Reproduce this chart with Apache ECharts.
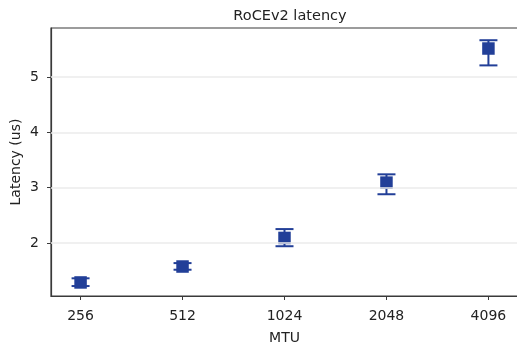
<!DOCTYPE html>
<html>
<head>
<meta charset="utf-8">
<script src="https://cdn.jsdelivr.net/npm/echarts@6/dist/echarts.min.js"></script>
<style>
html,body{margin:0;padding:0;background:#fff;}
#chart{width:517px;height:343px;}
</style>
</head>
<body>
<div id="chart"></div>
<script>
const mtuLabels = ['256', '512', '1024', '2048', '4096'];
const latency = [1.285, 1.573, 2.09, 3.09, 5.515];
const errLow = [1.22, 1.515, 1.94, 2.88, 5.21];
const errHigh = [1.36, 1.635, 2.25, 3.24, 5.665];
const yTicks = [2, 3, 4, 5];

const color = '#223f98';
const font = 'DejaVu Sans';

const pointData = latency.map((v, i) => [i, v]);
const errData = latency.map((v, i) => [i, errLow[i], errHigh[i]]);

const chart = echarts.init(document.getElementById('chart'), null, {renderer: 'canvas'});
chart.setOption({
  animation: false,
  backgroundColor: '#fff',
  title: {
    text: 'RoCEv2 latency',
    left: 285, top: 4, textAlign: 'center',
    textStyle: {fontFamily: font, fontSize: 14.5, fontWeight: 'normal', color: '#222'}
  },
  grid: {
    left: 51, top: 28, width: 467, height: 268,
    containLabel: false, outerBoundsMode: 'none',
    show: true, borderColor: '#3a3a3a', borderWidth: 1.2, backgroundColor: 'transparent'
  },
  xAxis: {
    type: 'value', min: -0.29, max: 4.29,
    name: 'MTU', nameLocation: 'middle', nameGap: 35, nameMoveOverlap: false,
    nameTextStyle: {fontFamily: font, fontSize: 14, color: '#222'},
    axisLine: {show: true, onZero: false, lineStyle: {color: '#3a3a3a', width: 1.2}},
    axisTick: {show: true, length: 4, customValues: [0, 1, 2, 3, 4], lineStyle: {color: '#3a3a3a'}},
    axisLabel: {
      customValues: [0, 1, 2, 3, 4], margin: 13,
      fontFamily: font, fontSize: 14, color: '#222',
      formatter: v => mtuLabels[Math.round(v)]
    },
    splitLine: {show: false}
  },
  yAxis: {
    type: 'value', min: 1.04, max: 5.886,
    name: 'Latency (us)', nameLocation: 'middle', nameGap: 28, nameMoveOverlap: false,
    nameTextStyle: {fontFamily: font, fontSize: 14, color: '#222'},
    axisLine: {show: true, onZero: false, lineStyle: {color: '#3a3a3a', width: 1.2}},
    axisTick: {show: true, length: 4, customValues: yTicks, lineStyle: {color: '#3a3a3a'}},
    axisLabel: {customValues: yTicks, margin: 12, fontFamily: font, fontSize: 14, color: '#222'},
    splitLine: {show: false}
  },
  series: [
    {
      type: 'line', data: [], silent: true,
      markLine: {
        silent: true, symbol: 'none', label: {show: false},
        lineStyle: {color: '#ebebeb', width: 1.5, type: 'solid'},
        data: yTicks.map(t => ({yAxis: t}))
      }
    },
    {
      type: 'custom', data: errData, z: 3, silent: true,
      renderItem: function (params, api) {
        const x = api.value(0);
        const lo = api.coord([x, api.value(1)]);
        const hi = api.coord([x, api.value(2)]);
        const hw = 9;
        const style = {stroke: color, lineWidth: 2};
        return {
          type: 'group',
          children: [
            {type: 'line', shape: {x1: lo[0], y1: lo[1], x2: hi[0], y2: hi[1]}, style: style},
            {type: 'line', shape: {x1: lo[0] - hw, y1: lo[1], x2: lo[0] + hw, y2: lo[1]}, style: style},
            {type: 'line', shape: {x1: hi[0] - hw, y1: hi[1], x2: hi[0] + hw, y2: hi[1]}, style: style}
          ]
        };
      }
    },
    {
      type: 'scatter', data: pointData, symbol: 'rect', symbolSize: 12.5, z: 4, silent: true,
      itemStyle: {color: color, opacity: 1}
    }
  ]
});
</script>
</body>
</html>
